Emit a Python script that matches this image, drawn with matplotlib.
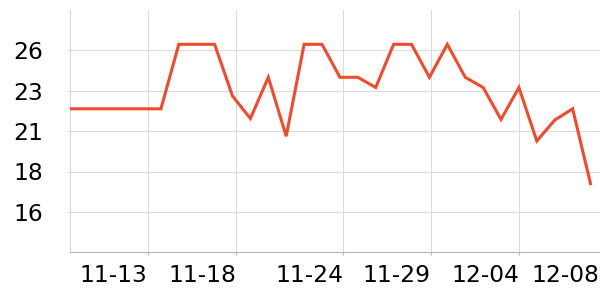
import matplotlib
matplotlib.use("Agg")
import matplotlib.pyplot as plt
import numpy as np

# daily values, 11-09 .. 12-08
values = [21.88, 21.88, 21.88, 21.88, 21.88, 21.88, 25.87, 25.87, 25.87, 22.67,
          21.28, 23.83, 20.18, 25.87, 25.87, 23.83, 23.83, 23.20, 25.87, 25.87,
          23.83, 25.87, 23.83, 23.20, 21.22, 23.20, 19.89, 21.18, 21.88, 17.25]
x_ticks = [4.26, 9.19, 15.18, 20.07, 25.02, 29.47]
x_labels = ["11-13", "11-18", "11-24", "11-29", "12-04", "12-08"]
y_ticks = [15.5, 18, 20.5, 23, 25.5]
y_labels = ["16", "18", "21", "23", "26"]

x = np.arange(len(values))

fig = plt.figure(figsize=(6, 3), dpi=100)
ax = fig.add_axes([0.117, 0.159, 0.883, 0.808])

ax.plot(x, values, color="#ef4b2d", lw=2.2, solid_joinstyle="miter", zorder=3)

ax.set_xlim(-0.067, 29.53)
ax.set_ylim(13, 28)

ax.set_xticks(x_ticks)
ax.set_xticklabels(x_labels, ha="right")
ax.set_yticks(y_ticks)
ax.set_yticklabels(y_labels)

ax.grid(True, color="#dcdcdc", lw=0.8)
ax.set_axisbelow(True)
# last date label sits at the edge, no grid line there
ax.get_xgridlines()[-1].set_visible(False)
ax.xaxis.get_major_ticks()[-1].tick1line.set_visible(False)

for s in ["top", "right"]:
    ax.spines[s].set_visible(False)
ax.spines["left"].set_color("#d6d6d6")
ax.spines["bottom"].set_color("#b4b4b4")
ax.spines["left"].set_linewidth(0.8)
ax.spines["bottom"].set_linewidth(0.8)

ax.tick_params(axis="y", length=1.8, width=0.8, color="#cccccc", pad=18, labelsize=16.8)
ax.tick_params(axis="x", length=2.2, width=0.8, color="#b4b4b4", pad=6.5, labelsize=16.8)

fig.savefig("out.png", dpi=100)
